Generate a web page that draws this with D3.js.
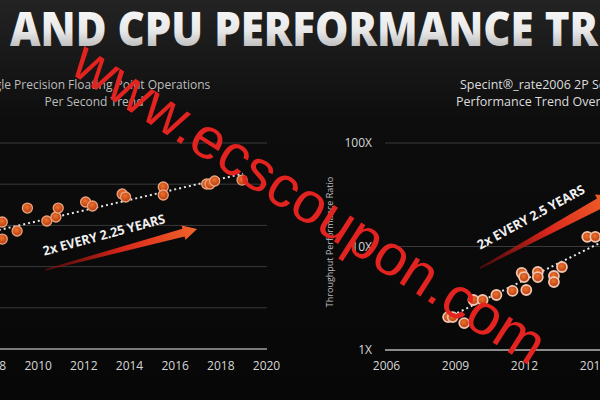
<!DOCTYPE html>
<html><head><meta charset="utf-8">
<script src="https://cdn.jsdelivr.net/npm/d3@7"></script>
<style>html,body{margin:0;padding:0;background:#0a0a0a;}svg{display:block;}</style>
</head><body>
<svg id="c" width="600" height="400"></svg>
<script>
// ---------- data ----------
const titleText = "AND CPU PERFORMANCE TR";
const leftSubtitle = ["Single Precision Floating Point Operations", "Per Second Trend"];
const rightSubtitle = ["Specint\u00AE_rate2006 2P Server", "Performance Trend Over Time"];
const rightYTitle = "Throughput Performance Ratio";

const leftXTicks = [2008, 2010, 2012, 2014, 2016, 2018, 2020];
const leftYGrid = [1, 10, 100, 1000, 10000, 100000];
const leftYears  = [2008.45, 2008.45, 2009.1, 2009.55, 2010.4, 2010.8, 2010.9, 2012.1, 2012.4, 2013.7, 2013.85, 2015.5, 2015.5, 2017.4, 2017.55, 2017.75, 2018.95];
const leftValues = [1210, 465, 731, 2640, 1280, 1600, 2640, 3700, 2960, 5780, 4890, 8550, 5470, 10100, 10100, 11960, 12600];
const leftTrendYears = [2008.3, 2019.0];
const leftTrendValues = [770, 18000];
const leftArrowYears = [2010.32, 2016.98];
const leftArrowValues = [83, 818];
const leftArrowLabel = "2x EVERY 2.25 YEARS";

const rightXTicks = [2006, 2009, 2012, 2015];
const rightYTicks = [1, 10, 100];
const rightYLabels = ["1X", "10X", "100X"];
const rightYears  = [2008.7, 2008.9, 2009.4, 2009.8, 2010.2, 2010.8, 2011.5, 2012.1, 2011.9, 2012.0, 2012.6, 2012.6, 2013.3, 2013.3, 2013.65, 2014.75, 2015.1];
const rightValues = [2.08, 2.08, 1.82, 3.04, 3.04, 3.40, 3.72, 3.80, 5.55, 5.07, 5.67, 5.07, 5.19, 4.54, 6.34, 12.4, 12.4];
const rightTrendYears = [2009.1, 2016.0];
const rightTrendValues = [2.28, 12.9];
const rightArrowYears = [2010.09, 2015.9];
const rightArrowValues = [6.2, 31];
const rightArrowLabel = "2x EVERY 2.5 YEARS";

const watermark = "www.ecscoupon.com";

// ---------- drawing ----------
const svg = d3.select("#c");
const defs = svg.append("defs");

const bg = defs.append("linearGradient").attr("id","bg").attr("x1",0).attr("y1",0).attr("x2",0).attr("y2",1);
bg.append("stop").attr("offset","0").attr("stop-color","#232323");
bg.append("stop").attr("offset","0.3").attr("stop-color","#0d0d0d");
bg.append("stop").attr("offset","1").attr("stop-color","#070707");
svg.append("rect").attr("width",600).attr("height",400).attr("fill","url(#bg)");

const tg = defs.append("linearGradient").attr("id","tg").attr("x1",0).attr("y1",0).attr("x2",0).attr("y2",1);
tg.append("stop").attr("offset","0").attr("stop-color","#ffffff");
tg.append("stop").attr("offset","0.55").attr("stop-color","#e8e8e8");
tg.append("stop").attr("offset","1").attr("stop-color","#9a9a9a");

const ag = defs.append("linearGradient").attr("id","ag").attr("x1",0).attr("y1",0).attr("x2",1).attr("y2",0);
ag.append("stop").attr("offset","0").attr("stop-color","#7a0c0c").attr("stop-opacity",0.6);
ag.append("stop").attr("offset","0.5").attr("stop-color","#d8261a");
ag.append("stop").attr("offset","1").attr("stop-color","#f2642a");

const mg = defs.append("radialGradient").attr("id","mg").attr("cx","0.45").attr("cy","0.4").attr("r","0.6");
mg.append("stop").attr("offset","0").attr("stop-color","#ec7430");
mg.append("stop").attr("offset","1").attr("stop-color","#b73a0c");

// title
svg.append("text").attr("x",10).attr("y",46).text(titleText)
  .attr("font-family","'Open Sans', sans-serif").attr("font-weight",800).attr("font-size",47)
  .attr("textLength",588).attr("lengthAdjust","spacingAndGlyphs").attr("fill","url(#tg)");

// ----- left chart -----
const xL = d3.scaleLinear().domain([2008, 2020]).range([-8, 266]);
const yL = d3.scaleLog().domain([1, 100000]).range([349, 143]);

const gL = svg.append("g");
gL.selectAll("line.grid").data(leftYGrid).join("line")
  .attr("x1",0).attr("x2",267).attr("y1",d=>yL(d)).attr("y2",d=>yL(d))
  .attr("stroke",d=>d===1?"#7a7a7a":"#3a3a3a").attr("stroke-width",d=>d===1?2:1);

const axL = gL.append("g").attr("transform","translate(0,358)")
  .call(d3.axisBottom(xL).tickValues(leftXTicks).tickFormat(d3.format("d")).tickSize(0));
axL.select(".domain").remove();
axL.selectAll("text").attr("fill","#d6d6d6").attr("font-size",12).attr("font-family","'Open Sans', sans-serif");

leftSubtitle.forEach((t,i)=>{
  svg.append("text").attr("x",94).attr("y",89+i*17).attr("text-anchor","middle").text(t)
    .attr("font-family","'Open Sans', sans-serif").attr("font-size",12).attr("fill","#bdbdbd");
});

const lineL = d3.line().x(d=>xL(d[0])).y(d=>yL(d[1]));
gL.append("path").attr("d",lineL(d3.zip(leftTrendYears,leftTrendValues)))
  .attr("stroke","#e6e6e6").attr("stroke-width",2).attr("stroke-dasharray","2,3").attr("fill","none");

gL.selectAll("circle.pt").data(d3.zip(leftYears,leftValues)).join("circle")
  .attr("cx",d=>xL(d[0])).attr("cy",d=>yL(d[1])).attr("r",5)
  .attr("fill","url(#mg)").attr("stroke","#eaa47e").attr("stroke-width",1.3);

function drawArrow(g, p0, p1, w0, w1, hw, hl, label, fs, off, len) {
  const dx = p1[0]-p0[0], dy = p1[1]-p0[1];
  const L = Math.hypot(dx,dy), ang = Math.atan2(dy,dx)*180/Math.PI;
  const a = g.append("g").attr("transform",`translate(${p0[0]},${p0[1]}) rotate(${ang})`);
  const pts = [[0,-w0/2],[L-hl,-w1/2],[L-hl,-hw/2],[L,0],[L-hl,hw/2],[L-hl,w1/2],[0,w0/2]];
  a.append("path").attr("d",d3.line()(pts)+"Z").attr("fill","url(#ag)");
  a.append("text").attr("x",off[0]).attr("y",off[1]).text(label)
    .attr("font-family","'Open Sans', sans-serif").attr("font-weight",700).attr("font-size",fs)
    .attr("fill","#f0f0f0").attr("textLength",len).attr("lengthAdjust","spacingAndGlyphs");
}
drawArrow(gL, [xL(leftArrowYears[0]), yL(leftArrowValues[0])], [xL(leftArrowYears[1]), yL(leftArrowValues[1])],
  1.5, 8, 15, 14, leftArrowLabel, 13, [3,-14], 126);

// ----- right chart -----
const xR = d3.scaleLinear().domain([2006, 2015]).range([386, 593]);
const yR = d3.scaleLog().domain([1, 100]).range([350, 143]);
const gR = svg.append("g");

gR.selectAll("line.grid").data(rightYTicks).join("line")
  .attr("x1",385).attr("x2",600).attr("y1",d=>yR(d)).attr("y2",d=>yR(d))
  .attr("stroke",d=>d===1?"#8a8a8a":"#3a3a3a").attr("stroke-width",d=>d===1?2:1);

gR.selectAll("text.yl").data(rightYTicks).join("text")
  .attr("x",372).attr("y",d=>yR(d)+4).attr("text-anchor","end").text((d,i)=>rightYLabels[i])
  .attr("font-family","'Open Sans', sans-serif").attr("font-size",12).attr("fill","#d6d6d6");

const axR = gR.append("g").attr("transform","translate(0,358)")
  .call(d3.axisBottom(xR).tickValues(rightXTicks).tickFormat(d3.format("d")).tickSize(0));
axR.select(".domain").remove();
axR.selectAll("text").attr("fill","#d6d6d6").attr("font-size",12).attr("font-family","'Open Sans', sans-serif");

svg.append("text").attr("transform","translate(333,242) rotate(-90)").attr("text-anchor","middle")
  .text(rightYTitle).attr("font-family","'Open Sans', sans-serif").attr("font-size",9).attr("fill","#bdbdbd");

rightSubtitle.forEach((t,i)=>{
  svg.append("text").attr("x",i===0?460:456).attr("y",89+i*17).text(t)
    .attr("font-family","'Open Sans', sans-serif").attr("font-size",12.5).attr("fill","#dcdcdc");
});

const lineR = d3.line().x(d=>xR(d[0])).y(d=>yR(d[1]));
gR.append("path").attr("d",lineR(d3.zip(rightTrendYears,rightTrendValues)))
  .attr("stroke","#e6e6e6").attr("stroke-width",2).attr("stroke-dasharray","2,3").attr("fill","none");

gR.selectAll("circle.pt").data(d3.zip(rightYears,rightValues)).join("circle")
  .attr("cx",d=>xR(d[0])).attr("cy",d=>yR(d[1])).attr("r",5)
  .attr("fill","url(#mg)").attr("stroke","#f0c4ae").attr("stroke-width",1.8);

drawArrow(gR, [xR(rightArrowYears[0]), yR(rightArrowValues[0])], [xR(rightArrowYears[1]), yR(rightArrowValues[1])],
  1.5, 11, 20, 16, rightArrowLabel, 13, [9,-16], 120);

// watermark
svg.append("text").attr("transform","translate(68,72) rotate(32.5)").text(watermark)
  .attr("font-family","'Liberation Sans', Arial, sans-serif").attr("font-size",58)
  .attr("textLength",548).attr("lengthAdjust","spacingAndGlyphs").attr("fill","#e3231f");
</script>
</body></html>
